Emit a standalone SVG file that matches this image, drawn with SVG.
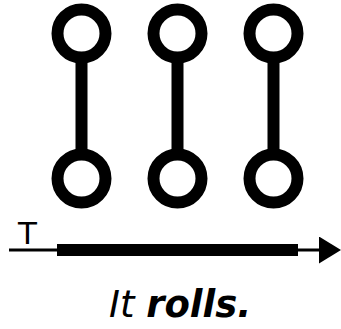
<svg xmlns="http://www.w3.org/2000/svg" width="341" height="329" viewBox="0 0 341 329">
<style>
.ring{fill:none;stroke:#000;stroke-width:12}
.rod{stroke:#000;stroke-width:12;fill:none}
.lbl{font-family:"DejaVu Sans",sans-serif;fill:#000}
</style>
<defs>
<marker id="ah" markerUnits="userSpaceOnUse" markerWidth="22" markerHeight="27" refX="0" refY="13.5" orient="auto">
<path d="M0,0 L22,13.5 L0,27 Z" fill="#000"/>
</marker>
</defs>
<rect width="341" height="329" fill="#fff"/>
<g id="connectors">
<line class="rod" x1="81.5" y1="63" x2="81.5" y2="149"/>
<line class="rod" x1="177.5" y1="63" x2="177.5" y2="149"/>
<line class="rod" x1="273.5" y1="63" x2="273.5" y2="149"/>
</g>
<g id="node-top-1"><circle class="ring" cx="81.5" cy="33.5" r="24"/></g>
<g id="node-top-2"><circle class="ring" cx="177.5" cy="33.5" r="24"/></g>
<g id="node-top-3"><circle class="ring" cx="273.5" cy="33.5" r="24"/></g>
<g id="node-bot-1"><circle class="ring" cx="81.5" cy="178.5" r="24"/></g>
<g id="node-bot-2"><circle class="ring" cx="177.5" cy="178.5" r="24"/></g>
<g id="node-bot-3"><circle class="ring" cx="273.5" cy="178.5" r="24"/></g>
<g id="axis">
<line x1="9" y1="250" x2="319" y2="250" stroke="#000" stroke-width="3" marker-end="url(#ah)"/>
<rect x="57" y="244" width="241" height="12" fill="#000"/>
<text class="lbl" x="18" y="244.3" font-size="31">T</text>
</g>
<g id="caption">
<text class="lbl" x="109" y="316.7" font-size="37" font-style="italic">It <tspan font-weight="bold">rolls.</tspan></text>
</g>
</svg>
